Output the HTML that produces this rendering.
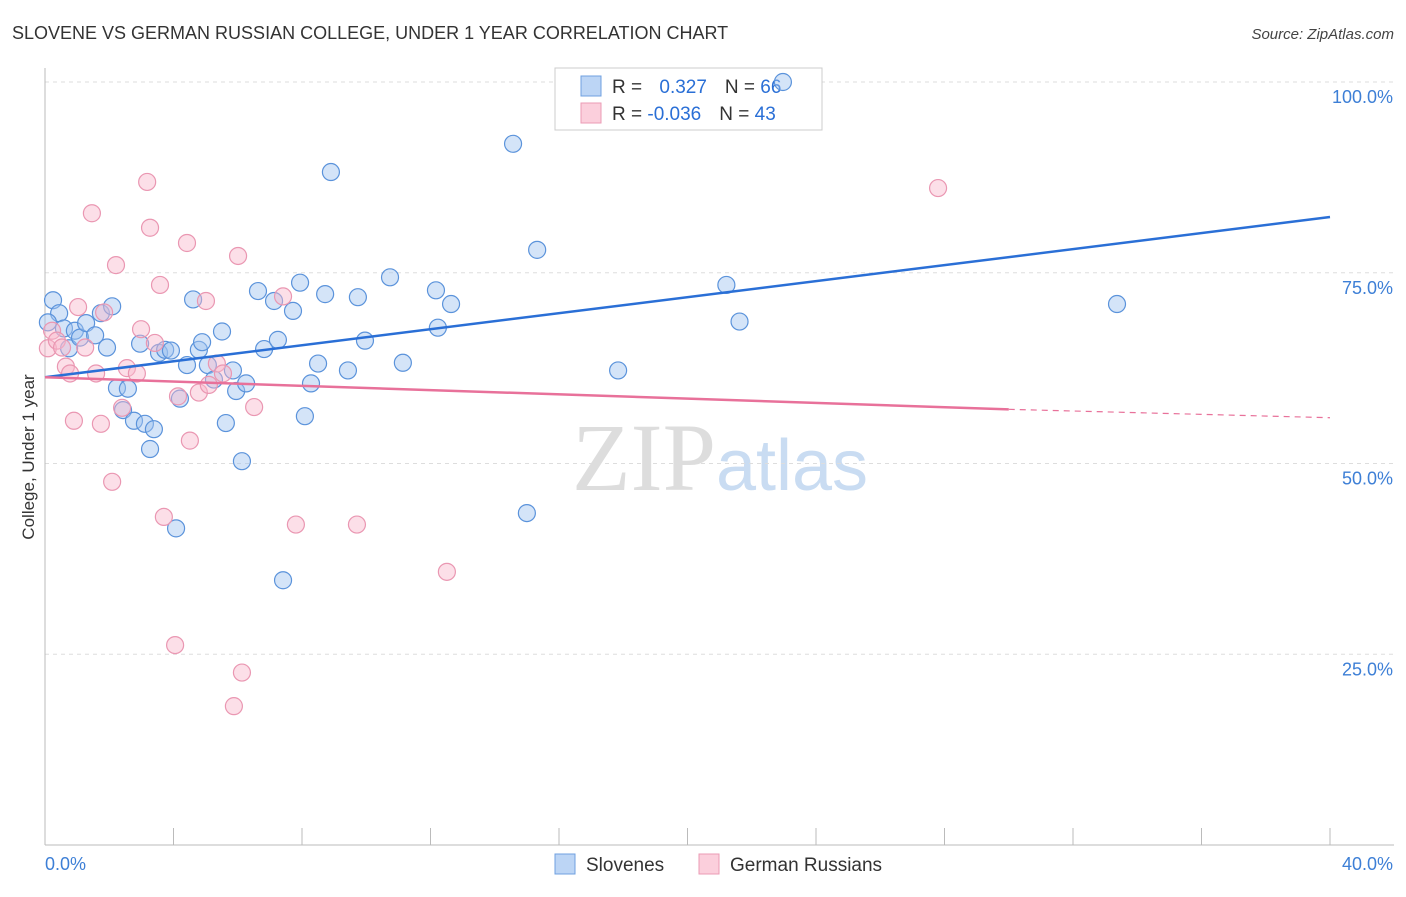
<!DOCTYPE html>
<html><head><meta charset="utf-8"><style>
body{margin:0;background:#fff;font-family:"Liberation Sans",sans-serif}
</style></head><body>
<svg id="chart" width="1406" height="892" xmlns="http://www.w3.org/2000/svg" font-family="Liberation Sans, sans-serif">
<text x="12" y="39" font-size="18" fill="#333">SLOVENE VS GERMAN RUSSIAN COLLEGE, UNDER 1 YEAR CORRELATION CHART</text>
<text x="1394" y="39" font-size="15" fill="#444" text-anchor="end" font-style="italic">Source: ZipAtlas.com</text>
<text x="720" y="490" font-size="96" text-anchor="middle" fill="#ddd" font-family="Liberation Serif, serif">ZIP<tspan fill="#c9dcf2" font-family="Liberation Sans, sans-serif" font-size="72">atlas</tspan></text>
<g id="grid"></g>
<g id="axes"></g>
<g>
<rect x="555" y="68" width="267" height="62" fill="#fff" stroke="#ccc"/>
<rect x="581" y="76" width="20" height="20" fill="#bcd5f5" stroke="#6fa0e0"/>
<rect x="581" y="103" width="20" height="20" fill="#fbcfdc" stroke="#eb9bb5"/>
<text x="612" y="93" font-size="19" fill="#333">R = <tspan fill="#2a6fd6" dx="12">0.327</tspan><tspan fill="#333" dx="18">N = </tspan><tspan fill="#2a6fd6">66</tspan></text>
<text x="612" y="120" font-size="19" fill="#333">R = <tspan fill="#2a6fd6">-0.036</tspan><tspan fill="#333" dx="18">N = </tspan><tspan fill="#2a6fd6">43</tspan></text>
</g>
<g id="marks"></g>
<text transform="translate(34,457) rotate(-90)" font-size="17" fill="#333" text-anchor="middle">College, Under 1 year</text>
<g>
<rect x="555" y="854" width="20" height="20" fill="#bcd5f5" stroke="#6fa0e0"/>
<text x="586" y="871" font-size="19" fill="#333">Slovenes</text>
<rect x="699" y="854" width="20" height="20" fill="#fbcfdc" stroke="#eb9bb5"/>
<text x="730" y="871" font-size="19" fill="#333">German Russians</text>
</g>
</svg>
<script>
const yTicks=[25,50,75,100];
const yTickLabels=["25.0%","50.0%","75.0%","100.0%"];
const xLabels=["0.0%","40.0%"];
const slovX=[0.25,0.44,0.59,0.93,0.75,1.09,1.28,1.56,1.74,2.09,1.93,2.24,2.43,2.58,2.77,2.96,3.11,3.27,3.39,3.55,3.74,3.92,4.08,4.20,4.42,4.61,4.79,4.89,5.07,5.26,5.51,5.63,5.85,5.95,6.13,6.26,6.63,6.82,7.13,7.25,7.41,7.72,7.94,8.09,8.28,8.50,8.72,8.90,9.43,9.74,9.96,10.74,11.14,12.17,12.23,12.64,14.57,15.00,15.32,17.84,21.21,21.62,22.97,33.37,0.09];
const slovY=[71.4,69.7,67.7,67.4,65.1,66.5,68.4,66.8,69.7,70.6,65.2,59.9,57.0,59.8,55.6,65.7,55.2,51.9,54.5,64.5,64.9,64.8,41.5,58.5,62.9,71.5,64.9,65.9,62.9,61.0,67.3,55.3,62.2,59.5,50.3,60.5,72.6,65.0,71.3,66.2,34.7,70.0,73.7,56.2,60.5,63.1,72.2,88.2,62.2,71.8,66.1,74.4,63.2,72.7,67.8,70.9,91.9,43.5,78.0,62.2,73.4,68.6,100.0,70.9,68.5];
const grX=[0.09,0.22,0.37,0.53,0.65,0.78,0.90,1.03,1.25,1.46,1.59,1.74,1.84,2.09,2.21,2.40,2.55,2.86,2.99,3.18,3.27,3.42,3.58,3.70,4.05,4.14,4.42,4.51,4.79,5.01,5.10,5.35,5.54,5.88,6.01,6.13,6.51,7.41,7.81,9.71,12.51,27.80];
const grY=[65.1,67.4,66.1,65.2,62.7,61.8,55.6,70.5,65.2,82.8,61.8,55.2,69.8,47.6,76.0,57.3,62.5,61.8,67.6,86.9,80.9,65.8,73.4,43.0,26.2,58.8,78.9,53.0,59.3,71.3,60.3,63.1,61.8,18.2,77.2,22.6,57.4,71.9,42.0,42.0,35.8,86.1];
const X0=45,X1=1330,Y0=845,Y100=82;
const sx=v=>X0+(X1-X0)*v/40, sy=v=>Y0-(Y0-Y100)*v/100;
const NS="http://www.w3.org/2000/svg";
function mk(tag,attrs,parent){const e=document.createElementNS(NS,tag);for(const k in attrs)e.setAttribute(k,attrs[k]);parent.appendChild(e);return e;}
const grid=document.getElementById('grid'),axes=document.getElementById('axes'),marks=document.getElementById('marks');
yTicks.forEach((t,i)=>{
 const l=mk('line',{x1:X0,x2:1394,y1:sy(t),y2:sy(t),stroke:'#ddd','stroke-dasharray':'4,4'},grid);
 
 
 const tx=mk('text',{x:1393,y:sy(t)+21,'font-size':18,fill:'#3d7fd6','text-anchor':'end'},axes);
 tx.textContent=yTickLabels[i];
 
 
});
const ax=mk('line',{x1:X0,x2:X0,y1:68,y2:845,stroke:'#bbb'},axes);


const xa=mk('line',{x1:X0,x2:1394,y1:845,y2:845,stroke:'#bbb'},axes);


for(let i=0;i<=10;i++){const v=i*4;const t=mk('line',{x1:sx(v),x2:sx(v),y1:828,y2:845,stroke:'#bbb'},axes);
 
 }
const l0=mk('text',{x:45,y:870,'font-size':18,fill:'#3d7fd6'},axes);l0.textContent=xLabels[0];


const l1=mk('text',{x:1393,y:870,'font-size':18,fill:'#3d7fd6','text-anchor':'end'},axes);l1.textContent=xLabels[1];


slovX.forEach((v,i)=>{const c=mk('circle',{cx:sx(v),cy:sy(slovY[i]),r:8.5,fill:'rgba(160,195,240,0.45)',stroke:'#5b93db','stroke-width':1.2},marks);
 
 });
grX.forEach((v,i)=>{const c=mk('circle',{cx:sx(v),cy:sy(grY[i]),r:8.5,fill:'rgba(248,185,205,0.45)',stroke:'#ea97b2','stroke-width':1.2},marks);
 
 });
const bl=mk('line',{x1:sx(0),y1:sy(61.3),x2:sx(40),y2:sy(82.3),stroke:'#2a6fd6','stroke-width':2.5},marks);


const pl=mk('line',{x1:sx(0),y1:sy(61.3),x2:sx(30),y2:sy(57.1),stroke:'#e8719a','stroke-width':2.5},marks);


const pd=mk('line',{x1:sx(30),y1:sy(57.1),x2:sx(40),y2:sy(56.0),stroke:'#e8719a','stroke-width':1.2,'stroke-dasharray':'6,5'},marks);


</script>
</body></html>
